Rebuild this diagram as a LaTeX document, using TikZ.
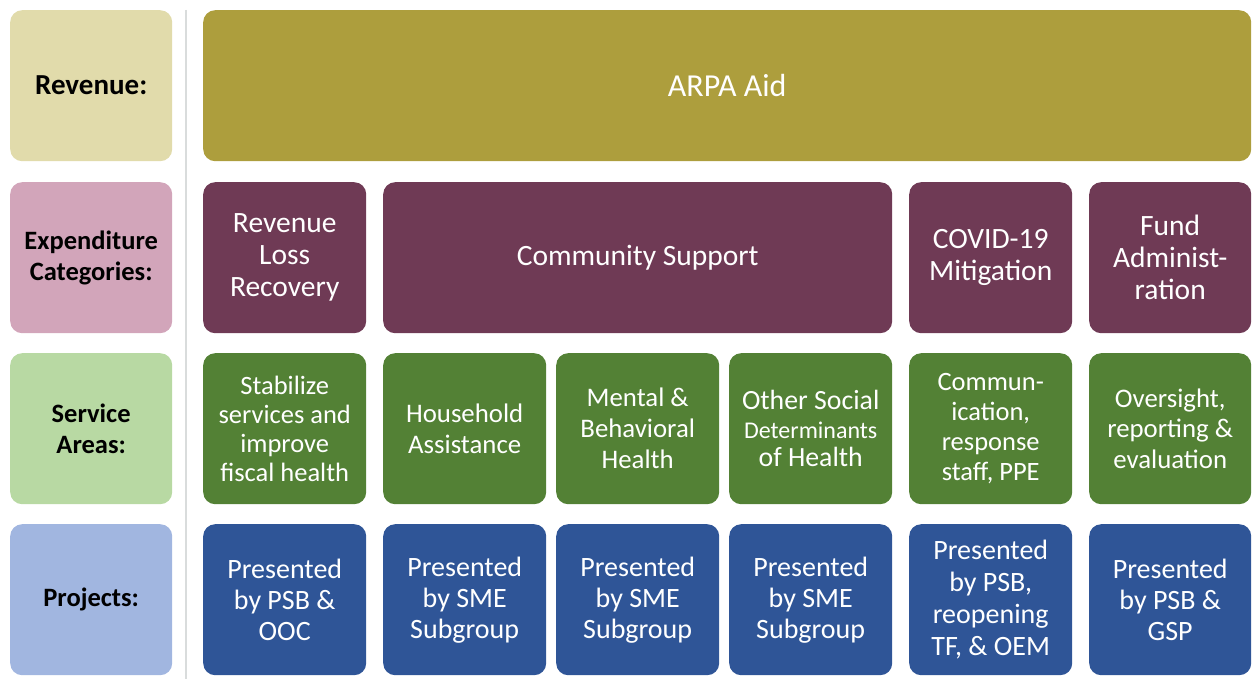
\documentclass[tikz,border=0pt]{standalone}
\usepackage{fontspec}
\setmainfont{Carlito}
\definecolor{revlab}{HTML}{E1DBAB}
\definecolor{revbox}{HTML}{AD9E3D}
\definecolor{explab}{HTML}{D2A5BA}
\definecolor{expbox}{HTML}{6F3A55}
\definecolor{svclab}{HTML}{B8D9A3}
\definecolor{svcbox}{HTML}{538135}
\definecolor{prjlab}{HTML}{A1B6E0}
\definecolor{prjbox}{HTML}{2F5597}
\definecolor{sepline}{HTML}{D9DCDC}
\tikzset{
  x=1pt, y=-1pt,
  base/.style={rectangle, rounded corners=12pt, inner sep=0pt, anchor=north west,
    align=center, text=white, minimum height=151pt, minimum width=163pt,
    font=\fontsize{28}{31}\selectfont},
  rowlabel/.style={base, text=black, minimum width=162pt,
    font=\bfseries\fontsize{26.5}{31}\selectfont},
  revenue/.style={base, fill=revbox, font=\fontsize{32}{36}\selectfont},
  expcat/.style={base, fill=expbox, font=\fontsize{29.5}{32}\selectfont},
  svcarea/.style={base, fill=svcbox, font=\fontsize{26.5}{30}\selectfont},
  project/.style={base, fill=prjbox},
}
\begin{document}
\begin{tikzpicture}
\useasboundingbox (0,0) rectangle (1252,679);
% row labels
\node[rowlabel, fill=revlab, font=\bfseries\fontsize{29}{31}\selectfont] (lrev) at (10,10) {Revenue:};
\node[rowlabel, fill=explab] (lexp) at (10,182) {Expenditure\\Categories:};
\node[rowlabel, fill=svclab] (lsvc) at (10,353) {Service\\Areas:};
\node[rowlabel, fill=prjlab] (lprj) at (10,524) {Projects:};
% separator
\coordinate (septop) at (186,10);
\coordinate (sepbot) at (186,679);
\draw[sepline, line width=2pt] (septop) -- (sepbot);
% revenue
\node[revenue, minimum width=1048pt] (arpa) at (203,10) {ARPA Aid};
% expenditure categories
\node[expcat] (rlr) at (203,182) {Revenue\\Loss\\Recovery};
\node[expcat, minimum width=509pt] (cs) at (383,182) {Community Support};
\node[expcat] (cov) at (909,182) {COVID-19\\Mitigation};
\node[expcat, minimum width=162pt] (fund) at (1089,182) {Fund\\Administ-\\ration};
% service areas
\node[svcarea, font=\fontsize{26.5}{29}\selectfont] (s1) at (203,353) {Stabilize\\services and\\improve\\fiscal health};
\node[svcarea, font=\fontsize{26.8}{31}\selectfont] (s2) at (383,353) {Household\\Assistance};
\node[svcarea, font=\fontsize{26.8}{31}\selectfont] (s3) at (556,353) {Mental \&\\Behavioral\\Health};
\node[svcarea, font=\fontsize{27.8}{28.5}\selectfont] (s4) at (729,353) {Other Social\\{\fontsize{24}{28.5}\selectfont Determinants}\\of Health};
\node[svcarea] (s5) at (909,353) {Commun-\\ication,\\response\\staff, PPE};
\node[svcarea, font=\fontsize{26.8}{30.5}\selectfont, minimum width=162pt] (s6) at (1089,353) {Oversight,\\reporting \&\\evaluation};
% projects
\node[project] (p1) at (203,524) {Presented\\by PSB \&\\OOC};
\node[project] (p2) at (383,524) {Presented\\by SME\\Subgroup};
\node[project] (p3) at (556,524) {Presented\\by SME\\Subgroup};
\node[project] (p4) at (729,524) {Presented\\by SME\\Subgroup};
\node[project, font=\fontsize{28}{32}\selectfont] (p5) at (909,524) {Presented\\by PSB,\\reopening\\TF, \& OEM};
\node[project, minimum width=162pt] (p6) at (1089,524) {Presented\\by PSB \&\\GSP};
\end{tikzpicture}
\end{document}
